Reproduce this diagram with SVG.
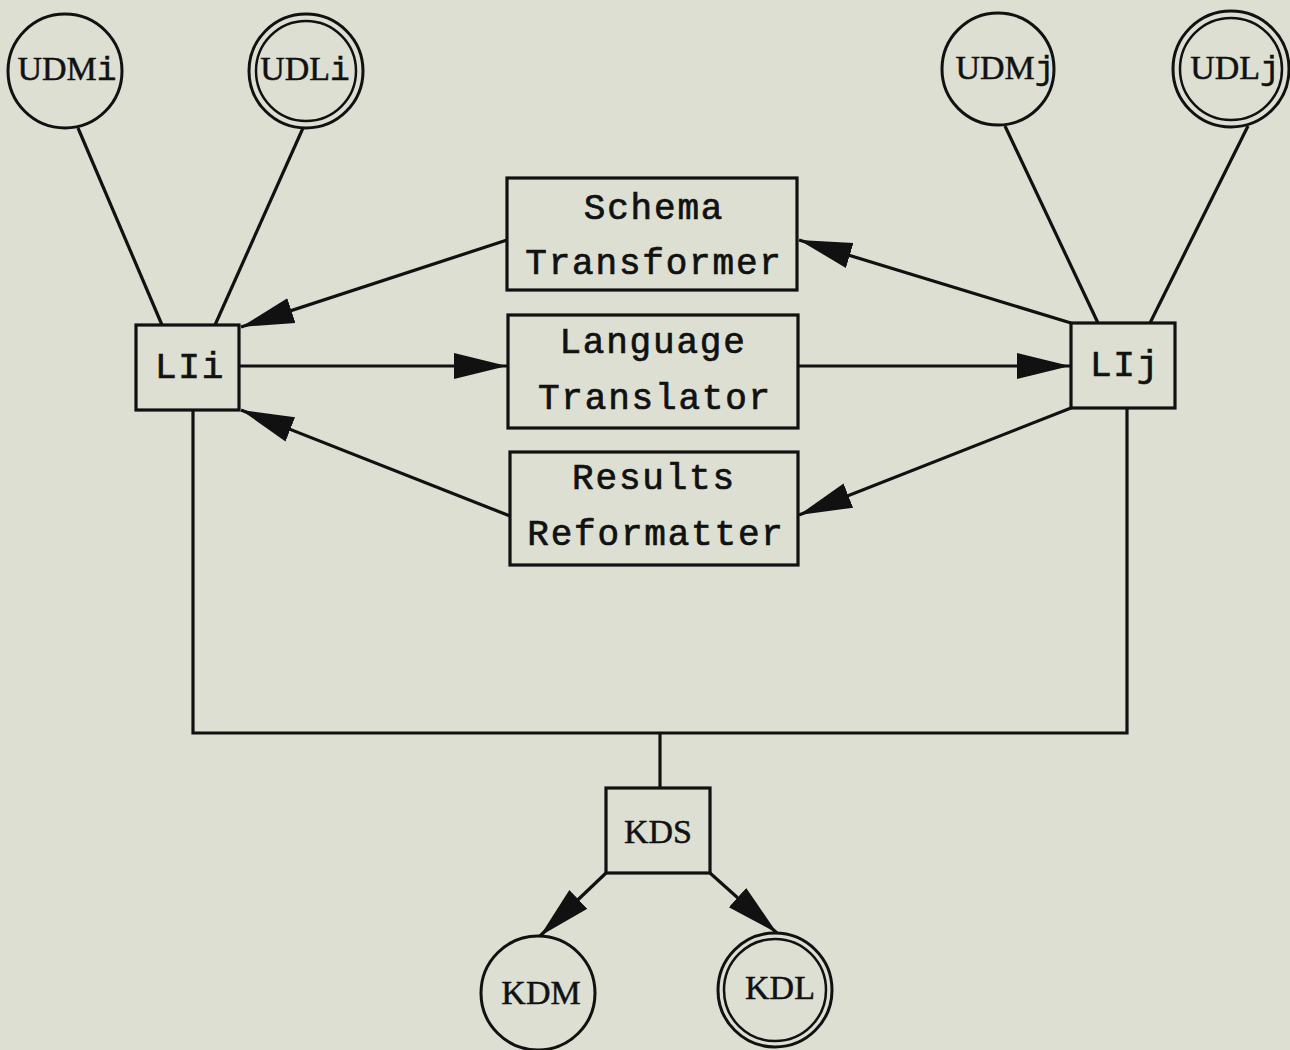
<svg xmlns="http://www.w3.org/2000/svg" width="1290" height="1050" viewBox="0 0 1290 1050">
<defs>
<style>
.bg{fill:#dcdfd2}
.box{fill:none;stroke:#111;stroke-width:3.2}
.circ{fill:none;stroke:#111;stroke-width:3}
.inner{fill:none;stroke:#111;stroke-width:2.5}
.edge{fill:none;stroke:#111;stroke-width:3.2}
.mono{font-family:"Liberation Mono","Courier New",monospace;font-size:36px;fill:#111;stroke:#111;stroke-width:0.7;letter-spacing:1.8px}
.serif{font-family:"Liberation Serif","Times New Roman",serif;font-size:34px;fill:#111;stroke:#111;stroke-width:0.5}
.cm{font-family:"Liberation Mono","Courier New",monospace;font-size:33px}
</style>
<marker id="ah" markerUnits="userSpaceOnUse" markerWidth="56" markerHeight="30" refX="53" refY="14" orient="auto" viewBox="0 0 56 30">
<path d="M0,1 L53,14 L0,27 Z" fill="#111"/>
</marker>
</defs>
<rect class="bg" x="0" y="0" width="1290" height="1050"/>

<g id="connectors">
<line class="edge" x1="78" y1="128" x2="162" y2="325"/>
<line class="edge" x1="303" y1="128" x2="215" y2="325"/>
<line class="edge" x1="1005" y1="126" x2="1098" y2="323"/>
<line class="edge" x1="1248" y1="126" x2="1150" y2="323"/>
<line class="edge" x1="507" y1="240" x2="241" y2="327" marker-end="url(#ah)"/>
<line class="edge" x1="239" y1="366" x2="507" y2="366" marker-end="url(#ah)"/>
<line class="edge" x1="510" y1="516" x2="241" y2="410" marker-end="url(#ah)"/>
<line class="edge" x1="1071" y1="323" x2="799" y2="240" marker-end="url(#ah)"/>
<line class="edge" x1="798" y1="366" x2="1070" y2="366" marker-end="url(#ah)"/>
<line class="edge" x1="1071" y1="408" x2="799" y2="515" marker-end="url(#ah)"/>
<polyline class="edge" points="193,410 193,733 1127,733 1127,408"/>
<line class="edge" x1="660" y1="733" x2="660" y2="788"/>
<line class="edge" x1="606" y1="873" x2="540" y2="936" marker-end="url(#ah)"/>
<line class="edge" x1="710" y1="873" x2="777" y2="933" marker-end="url(#ah)"/>
</g>

<g id="UDMi">
<circle class="circ" cx="65" cy="71" r="57"/>
<text class="serif" x="67" y="80" text-anchor="middle">UDM<tspan class="cm">i</tspan></text>
</g>
<g id="UDLi">
<circle class="circ" cx="306" cy="71" r="57"/>
<circle class="inner" cx="306" cy="71" r="50"/>
<text class="serif" x="305" y="80" text-anchor="middle">UDL<tspan class="cm">i</tspan></text>
</g>
<g id="UDMj">
<circle class="circ" cx="998" cy="69" r="56"/>
<text class="serif" x="1005" y="79" text-anchor="middle">UDM<tspan class="cm">j</tspan></text>
</g>
<g id="UDLj">
<circle class="circ" cx="1231" cy="69" r="58"/>
<circle class="inner" cx="1231" cy="69" r="51"/>
<text class="serif" x="1235" y="79" text-anchor="middle">UDL<tspan class="cm">j</tspan></text>
</g>

<g id="LIi">
<rect class="box" x="136" y="325" width="103" height="85"/>
<text class="mono" x="190" y="378" text-anchor="middle">LIi</text>
</g>
<g id="LIj">
<rect class="box" x="1071" y="323" width="104" height="85"/>
<text class="mono" x="1125" y="376" text-anchor="middle">LIj</text>
</g>

<g id="SchemaTransformer">
<rect class="box" x="507" y="178" width="290" height="112"/>
<text class="mono" x="654" y="219" text-anchor="middle">Schema</text>
<text class="mono" x="654" y="274" text-anchor="middle">Transformer</text>
</g>
<g id="LanguageTranslator">
<rect class="box" x="508" y="315" width="290" height="113"/>
<text class="mono" x="653" y="353" text-anchor="middle">Language</text>
<text class="mono" x="655" y="409" text-anchor="middle">Translator</text>
</g>
<g id="ResultsReformatter">
<rect class="box" x="510" y="452" width="288" height="113"/>
<text class="mono" x="654" y="489" text-anchor="middle">Results</text>
<text class="mono" x="656" y="545" text-anchor="middle">Reformatter</text>
</g>

<g id="KDS">
<rect class="box" x="606" y="788" width="104" height="85"/>
<text class="serif" x="658" y="843" text-anchor="middle">KDS</text>
</g>
<g id="KDM">
<circle class="circ" cx="538" cy="993" r="57"/>
<text class="serif" x="541" y="1004" text-anchor="middle">KDM</text>
</g>
<g id="KDL">
<circle class="circ" cx="775" cy="990" r="57"/>
<circle class="inner" cx="775" cy="990" r="51"/>
<text class="serif" x="780" y="999" text-anchor="middle">KDL</text>
</g>
</svg>
